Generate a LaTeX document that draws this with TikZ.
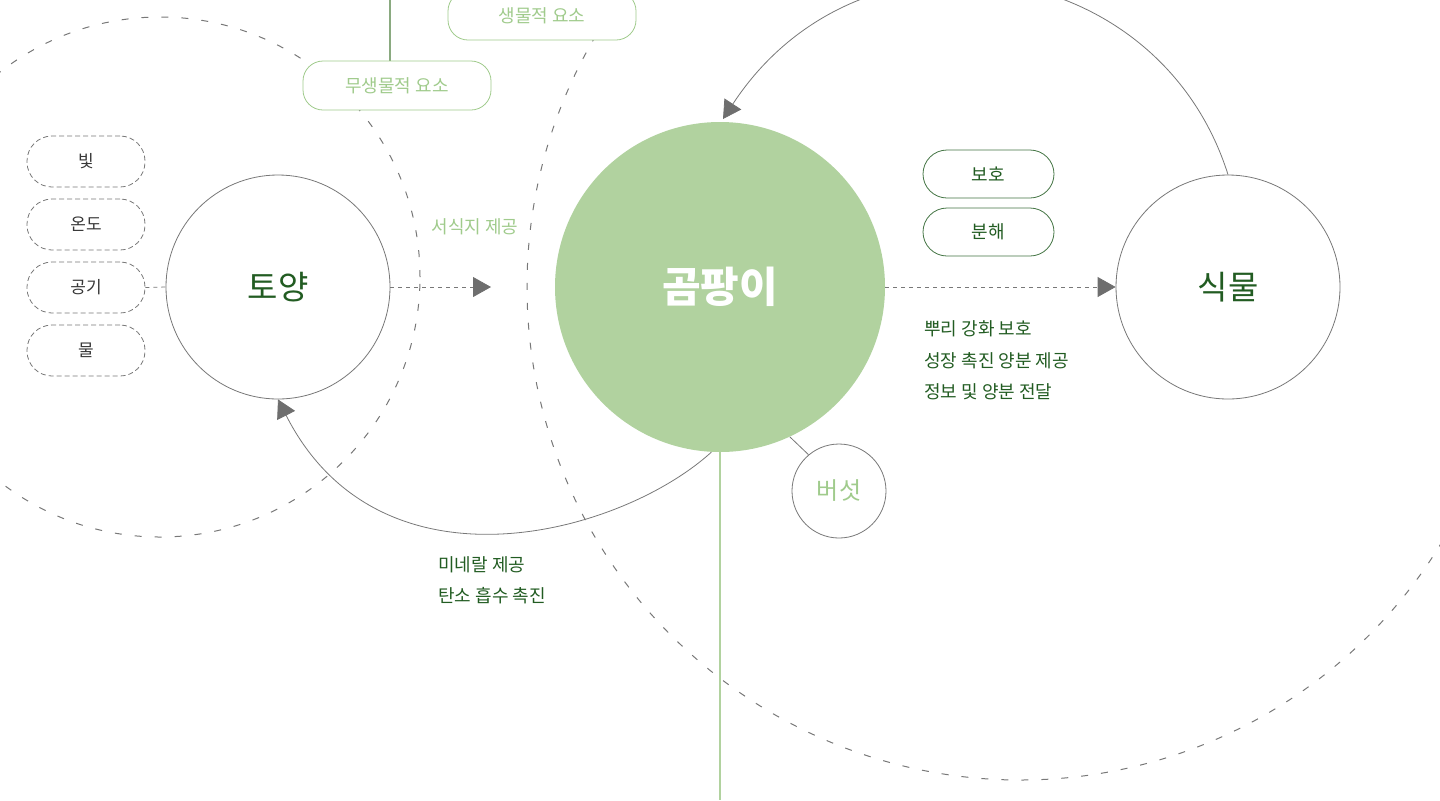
\documentclass[tikz,border=0pt]{standalone}
\usepackage{fontspec}
\setmainfont{Noto Sans CJK KR}
\usetikzlibrary{arrows.meta}
\definecolor{moldgreen}{RGB}{177,210,159}
\definecolor{leafdark}{RGB}{34,92,34}
\definecolor{leaflight}{RGB}{160,203,140}
\definecolor{stemgreen}{RGB}{138,170,128}
\definecolor{linegrey}{RGB}{120,120,120}
\definecolor{tipgrey}{RGB}{110,110,110}
\definecolor{textgrey}{RGB}{55,55,55}

\begin{document}
\begin{tikzpicture}[x=0.5pt, y=0.5pt,
    hub/.style={circle, fill=moldgreen, minimum size=165pt, inner sep=0pt, text=white,
                font=\fontsize{21}{24}\selectfont\bfseries},
    realm/.style={circle, draw=linegrey, line width=0.4pt, fill=white, minimum size=112pt,
                  inner sep=0pt, text=leafdark, font=\fontsize{16.5}{19}\selectfont},
    fruit/.style={circle, draw=linegrey, line width=0.4pt, fill=white, minimum size=47pt,
                  inner sep=0pt, text=leaflight, font=\fontsize{12}{14}\selectfont},
    factor/.style={rectangle, rounded corners=12.5pt, draw=linegrey, dash pattern=on 2.5pt off 1.5pt,
                   line width=0.4pt, minimum width=59pt, minimum height=25.5pt, text=textgrey,
                   font=\fontsize{8.5}{10}\selectfont},
    role/.style={rectangle, rounded corners=12pt, draw=leafdark!85, line width=0.4pt, fill=white,
                 minimum width=65.5pt, minimum height=24pt, text=leafdark, font=\fontsize{9}{11}\selectfont},
    group/.style={rectangle, rounded corners=10pt, draw=leaflight, line width=0.4pt, fill=white,
                  minimum width=94pt, minimum height=24.5pt, text=leaflight, font=\fontsize{9}{11}\selectfont},
    effect/.style={anchor=west, inner sep=0pt, text=leafdark, font=\fontsize{9}{11}\selectfont},
    orbit/.style={draw=linegrey, line width=0.5pt, dash pattern=on 3.5pt off 6.5pt},
    dotlink/.style={draw=linegrey, line width=0.4pt, dash pattern=on 2pt off 2pt},
    link/.style={draw=linegrey, line width=0.4pt},
    headtip/.style={-{Triangle[length=9pt, width=10pt, color=tipgrey]}}
]
    \useasboundingbox (0,0) rectangle (1440,-800);
    \clip (0,0) rectangle (1440,-800);
    % habitat ranges
    \draw[orbit] (160,-277) circle[radius=260];
    \draw[orbit] (1020,-287) ++(140:493) arc[start angle=140, end angle=345, radius=493];
    % main nodes
    \node[hub] (fungi) at (720,-287) {곰팡이};
    \node[realm] (soil) at (278,-287) {토양};
    \node[realm] (plant) at (1228,-287) {식물};
    \node[fruit] (mush) at (839,-491) {버섯};
    % abiotic factors
    \node[factor] (light) at (86,-161.5) {빛};
    \node[factor] (temp) at (86,-224.5) {온도};
    \node[factor] (air) at (86,-287.5) {공기};
    \node[factor] (water) at (86,-350.5) {물};
    % roles of the mold
    \node[role] (guard) at (988.5,-174) {보호};
    \node[role] (decay) at (988.5,-232) {분해};
    % factor groups
    \coordinate (topEnd) at (390,0);
    \coordinate (rootEnd) at (720,-800);
    \draw[stemgreen, line width=1pt] (topEnd) -- (390,-61);
    \node[group] (abiotic) at (397,-85.5) {무생물적 요소};
    \node[group] (biotic) at (542,-15.5) {생물적 요소};
    \draw[moldgreen, line width=1pt] (fungi.south) -- (rootEnd);
    % connectors
    \coordinate (habitatTip) at (491,-287);
    \coordinate (fungiIn) at (723,-119);
    \draw[dotlink] (air.east) -- (soil.west);
    \draw[dotlink, headtip] (soil.east) -- (habitatTip);
    \draw[dotlink, headtip] (fungi.east) -- (plant.west);
    \draw[link, headtip] (plant.north) .. controls (1158,47) and (860,90) .. (fungiIn);
    \draw[link, headtip] (fungi.-93) .. controls (620,-535) and (380,-600) .. (soil.south);
    \draw[link] (fungi.-65) -- (mush.130);
    % labels
    \node[text=leaflight, font=\fontsize{9}{11}\selectfont] (habitat) at (475,-227) {서식지 제공};
    \node[effect] (mineral) at (438,-565) {미네랄 제공};
    \node[effect] (carbon) at (438,-596) {탄소 흡수 촉진};
    \node[effect] (rootfx) at (924,-329) {뿌리 강화 보호};
    \node[effect] (growfx) at (924,-361) {성장 촉진 양분 제공};
    \node[effect] (infofx) at (924,-392) {정보 및 양분 전달};
\end{tikzpicture}
\end{document}
